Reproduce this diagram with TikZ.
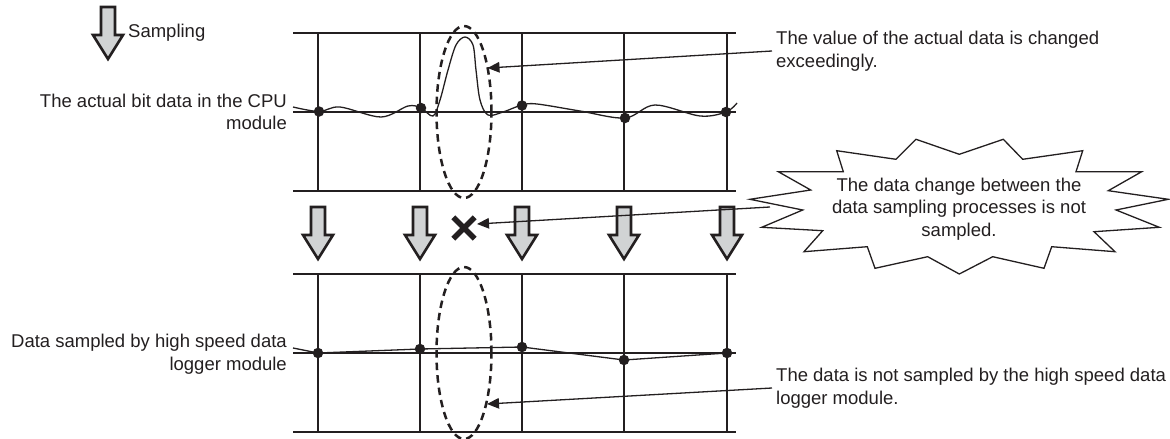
\documentclass[tikz,border=0pt]{standalone}
\usepackage{fontspec}
\setmainfont{Liberation Sans}
\usetikzlibrary{arrows.meta,shapes.geometric}
\definecolor{ink}{HTML}{231F20}
\definecolor{arrowfill}{HTML}{D1D3D4}
\tikzset{
  gridline/.style={ink, line width=1.3pt},
  waveline/.style={ink, line width=1.3pt},
  dotnode/.style={circle, fill=ink, inner sep=0pt, minimum size=10.5pt},
  dashell/.style={ellipse, draw=ink, line width=2.5pt, dash pattern=on 7.5pt off 5pt, inner sep=0pt, minimum width=55pt, minimum height=172pt},
  lbl/.style={text=ink, font=\fontsize{18.5}{22.5}\selectfont, inner sep=0pt},
  leader/.style={ink, line width=1.3pt, -{Triangle[length=12pt,width=10.5pt]}},
  xstroke/.style={ink, line width=5.5pt},
  blockarrow/.pic={
    \filldraw[fill=arrowfill, draw=ink, line width=2.6pt, line join=miter]
      (-7,0) -- (7,0) -- (7,28) -- (15,28) -- (0,52) -- (-15,28) -- (-7,28) -- cycle;
  }
}
\begin{document}
\begin{tikzpicture}[x=1pt,y=-1pt]
\useasboundingbox (0,0) rectangle (1170,439);

% sampling legend
\pic at (108,7) {blockarrow};
\node[lbl, anchor=west] (samp) at (128,33) {Sampling};

% top grid
\foreach \yy in {33,112,191} \draw[gridline] (293,\yy) -- (736,\yy);
\foreach \xx in {318,420,522,624,727} \draw[gridline] (\xx,33) -- (\xx,191);

% bottom grid
\foreach \yy in {274,353,432} \draw[gridline] (293,\yy) -- (736,\yy);
\foreach \xx in {318,420,522,624,727} \draw[gridline] (\xx,274) -- (\xx,432);

% actual wave
\draw[waveline] plot[smooth, tension=0.55] coordinates {
  (293,107) (319,111.5) (340,107) (381,117) (408,106) (421,108) (433,116)
  (440,100) (448,70) (456,45) (465,37) (473,45) (476,70) (480,100) (488,115)
  (503,112) (522,105) (537,104) (580,111) (625,118) (655,105) (700,116)
  (726,112) (737,103)};
\node[dotnode] (a1) at (319,111.5) {};
\node[dotnode] (a2) at (421,108) {};
\node[dotnode] (a3) at (522,105.5) {};
\node[dotnode] (a4) at (625,118) {};
\node[dotnode] (a5) at (726,112) {};

% sampled data
\coordinate (b0) at (293,348);
\node[dotnode] (b1) at (318,353) {};
\node[dotnode] (b2) at (420,349) {};
\node[dotnode] (b3) at (522,347) {};
\node[dotnode] (b4) at (624,360) {};
\node[dotnode] (b5) at (727,353) {};
\draw[waveline] (b0) -- (b1.center) -- (b2.center) -- (b3.center) -- (b4.center) -- (b5.center);

% sampling arrows
\foreach \xx in {318,420,522,624,727} \pic at (\xx,207) {blockarrow};

% X mark
\node[inner sep=0pt, minimum size=21pt] (xm) at (464,228) {};
\draw[xstroke] (xm.north west) -- (xm.south east) (xm.north east) -- (xm.south west);
\coordinate (xt) at (477,224);

% dashed ellipses
\node[dashell] (e1) at (464,112) {};
\node[dashell] (e2) at (464,353) {};
\coordinate (e1t) at (487.5,68);
\coordinate (e2t) at (487,404);

% left labels
\node[lbl, anchor=east, align=right] (lblA) at (287,112) {The actual bit data in the CPU\\module};
\node[lbl, anchor=east, align=right] (lblB) at (287,354) {Data sampled by high speed data\\logger module};

% right labels
\node[lbl, anchor=west, align=left, inner xsep=4pt] (lblV) at (772,51) {The value of the actual data is changed\\exceedingly.};
\node[lbl, anchor=west, align=left, inner xsep=4pt] (lblN) at (772,388) {The data is not sampled by the high speed data\\logger module.};

% starburst
\draw[ink, line width=1.3pt, fill=white, line join=miter]
  (916,139.3) -- (959.3,154.3) -- (1003.3,139.3) -- (1022.7,159.3) -- (1082.7,150.7)
  -- (1076,171.7) -- (1141.7,171.7) -- (1108.3,190.7) -- (1168.3,199.3) -- (1116,210)
  -- (1159.3,227.3) -- (1094,231.7) -- (1115,251.7) -- (1051.7,246.7) -- (1044,268.3)
  -- (992.7,256.7) -- (959.3,274) -- (927.7,256.7) -- (875,268.3) -- (867.3,246.7)
  -- (804,251.7) -- (822.7,230.7) -- (761.7,227.3) -- (802.7,210) -- (750,199.3)
  -- (810.7,190) -- (778.3,171.7) -- (843.3,171.7) -- (836.7,150.7) -- (896,159.3) -- cycle;
\node[lbl, align=center] (burst) at (959,209) {The data change between the\\data sampling processes is not\\sampled.};
\coordinate (bs) at (770,207);

% leaders
\draw[leader] (lblV.west) -- (e1t);
\draw[leader] (lblN.west) -- (e2t);
\draw[leader] (bs) -- (xt);
\end{tikzpicture}
\end{document}
